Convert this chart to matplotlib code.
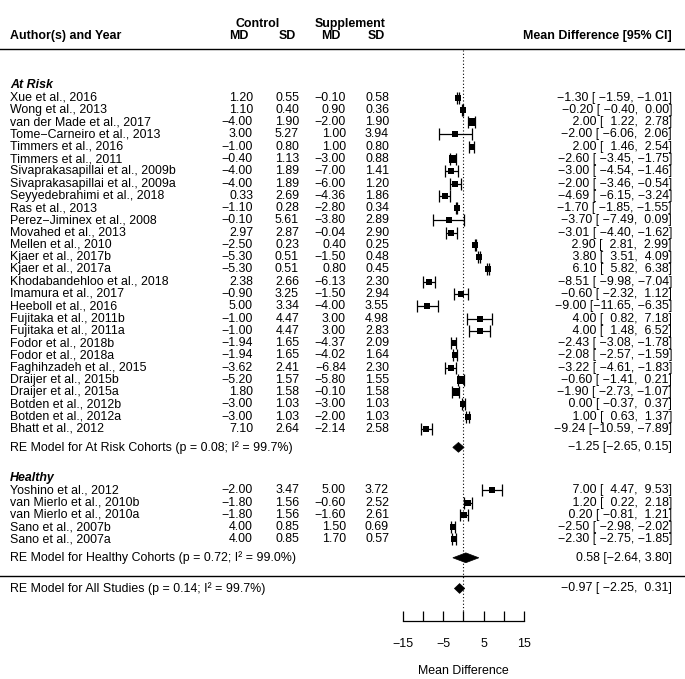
import matplotlib
matplotlib.use("Agg")
import matplotlib.pyplot as plt
import matplotlib.transforms as mtransforms
from matplotlib.patches import Polygon

plt.rcParams['font.family'] = ['Liberation Sans', 'DejaVu Sans']

# ---------------- data ----------------
risk_names = ["Xue et al., 2016", "Wong et al., 2013", "van der Made et al., 2017",
              "Tome\u2212Carneiro et al., 2013", "Timmers et al., 2016", "Timmers et al., 2011",
              "Sivaprakasapillai et al., 2009b", "Sivaprakasapillai et al., 2009a",
              "Seyyedebrahimi et al., 2018", "Ras et al., 2013", "Perez\u2212Jiminex et al., 2008",
              "Movahed et al., 2013", "Mellen et al., 2010", "Kjaer et al., 2017b",
              "Kjaer et al., 2017a", "Khodabandehloo et al., 2018", "Imamura et al., 2017",
              "Heeboll et al., 2016", "Fujitaka et al., 2011b", "Fujitaka et al., 2011a",
              "Fodor et al., 2018b", "Fodor et al., 2018a", "Faghihzadeh et al., 2015",
              "Draijer et al., 2015b", "Draijer et al., 2015a", "Botden et al., 2012b",
              "Botden et al., 2012a", "Bhatt et al., 2012"]
risk_ctrl_md = [1.20, 1.10, -4.00, 3.00, -1.00, -0.40, -4.00, -4.00, 0.33, -1.10, -0.10, 2.97,
                -2.50, -5.30, -5.30, 2.38, -0.90, 5.00, -1.00, -1.00, -1.94, -1.94, -3.62,
                -5.20, 1.80, -3.00, -3.00, 7.10]
risk_ctrl_sd = [0.55, 0.40, 1.90, 5.27, 0.80, 1.13, 1.89, 1.89, 2.69, 0.28, 5.61, 2.87,
                0.23, 0.51, 0.51, 2.66, 3.25, 3.34, 4.47, 4.47, 1.65, 1.65, 2.41,
                1.57, 1.58, 1.03, 1.03, 2.64]
risk_supp_md = [-0.10, 0.90, -2.00, 1.00, 1.00, -3.00, -7.00, -6.00, -4.36, -2.80, -3.80, -0.04,
                0.40, -1.50, 0.80, -6.13, -1.50, -4.00, 3.00, 3.00, -4.37, -4.02, -6.84,
                -5.80, -0.10, -3.00, -2.00, -2.14]
risk_supp_sd = [0.58, 0.36, 1.90, 3.94, 0.80, 0.88, 1.41, 1.20, 1.86, 0.34, 2.89, 2.90,
                0.25, 0.48, 0.45, 2.30, 2.94, 3.55, 4.98, 2.83, 2.09, 1.64, 2.30,
                1.55, 1.58, 1.03, 1.03, 2.58]
risk_est = [-1.30, -0.20, 2.00, -2.00, 2.00, -2.60, -3.00, -2.00, -4.69, -1.70, -3.70, -3.01,
            2.90, 3.80, 6.10, -8.51, -0.60, -9.00, 4.00, 4.00, -2.43, -2.08, -3.22,
            -0.60, -1.90, 0.00, 1.00, -9.24]
risk_lo = [-1.59, -0.40, 1.22, -6.06, 1.46, -3.45, -4.54, -3.46, -6.15, -1.85, -7.49, -4.40,
           2.81, 3.51, 5.82, -9.98, -2.32, -11.65, 0.82, 1.48, -3.08, -2.57, -4.61,
           -1.41, -2.73, -0.37, 0.63, -10.59]
risk_hi = [-1.01, 0.00, 2.78, 2.06, 2.54, -1.75, -1.46, -0.54, -3.24, -1.55, 0.09, -1.62,
           2.99, 4.09, 6.38, -7.04, 1.12, -6.35, 7.18, 6.52, -1.78, -1.59, -1.83,
           0.21, -1.07, 0.37, 1.37, -7.89]
risk_wt = [6.0, 6.0, 6.5, 5.5, 6.0, 6.5, 6.0, 6.0, 6.0, 6.0, 5.5, 6.0,
           6.0, 6.0, 6.0, 6.0, 6.0, 5.5, 5.5, 5.5, 6.0, 5.5, 6.0,
           6.5, 6.5, 5.5, 5.5, 6.0]

healthy_names = ["Yoshino et al., 2012", "van Mierlo et al., 2010b", "van Mierlo et al., 2010a",
                 "Sano et al., 2007b", "Sano et al., 2007a"]
healthy_ctrl_md = [-2.00, -1.80, -1.80, 4.00, 4.00]
healthy_ctrl_sd = [3.47, 1.56, 1.56, 0.85, 0.85]
healthy_supp_md = [5.00, -0.60, -1.60, 1.50, 1.70]
healthy_supp_sd = [3.72, 2.52, 2.61, 0.69, 0.57]
healthy_est = [7.00, 1.20, 0.20, -2.50, -2.30]
healthy_lo = [4.47, 0.22, -0.81, -2.98, -2.75]
healthy_hi = [9.53, 2.18, 1.21, -2.02, -1.85]
healthy_wt = [6.0, 6.0, 6.0, 5.5, 5.5]

summary_labels = ["RE Model for At Risk Cohorts (p = 0.08; I\u00b2 = 99.7%)",
                  "RE Model for Healthy Cohorts (p = 0.72; I\u00b2 = 99.0%)",
                  "RE Model for All Studies (p = 0.14; I\u00b2 = 99.7%)"]
summary_est = [-1.25, 0.58, -0.97]
summary_lo = [-2.65, -2.64, -2.25]
summary_hi = [0.15, 3.80, 0.31]

xticks = [-15, -10, -5, 0, 5, 10, 15]
xticklabels = ["\u221215", "", "\u22125", "", "5", "", "15"]

# ---------------- layout ----------------
W, H = 685, 679
FS = 8.9
ROW0_PX = 576.2      # pixel position of row 0 (separator line)
UNIT = 12.27         # pixels per row

fig = plt.figure(figsize=(W / 100, H / 100), dpi=100)
ax = fig.add_axes([403 / W, 0, 121 / W, 1])
ax.set_xlim(-15, 15)
# rows increase upward, as in a metafor forest plot
ax.set_ylim((ROW0_PX - H) / UNIT, ROW0_PX / UNIT)
for s in ['top', 'left', 'right']:
    ax.spines[s].set_visible(False)
ax.set_yticks([])
ax.patch.set_alpha(0)

tr = mtransforms.blended_transform_factory(fig.transFigure, ax.transData)


def put(px, y, s, **kw):
    kw.setdefault('fontsize', FS)
    kw.setdefault('va', 'center')
    ax.text(px / W, y, s, transform=tr, clip_on=False, **kw)


def m(v):
    return f"{v:.2f}".replace('-', '\u2212')


n_risk = len(risk_names)
n_h = len(healthy_names)
healthy_y = [7 - i for i in range(n_h)]                 # 7 .. 3
y_healthy_sum = 1.5
y_healthy_head = 8
risk_y = [12 + n_risk - 1 - i for i in range(n_risk)]   # 39 .. 12
y_risk_sum = 10.5
y_risk_head = 40
y_all = -1
y_sep = 0
y_hline = 43
y_head = 44
y_head2 = 45
summary_y = [y_risk_sum, y_healthy_sum, y_all]

# header
put(258, y_head2, "Control", ha='center', fontweight='bold')
put(350, y_head2, "Supplement", ha='center', fontweight='bold')
put(10, y_head, "Author(s) and Year", ha='left', fontweight='bold')
for cx, lab in zip([239, 287, 331, 376], ["MD", "SD", "MD", "SD"]):
    put(cx, y_head, lab, ha='center', fontweight='bold')
put(672, y_head, "Mean Difference [95% CI]", ha='right', fontweight='bold')

# horizontal rules
ax.plot([0, 1], [y_hline, y_hline], transform=tr, color='black', lw=1.0, clip_on=False)
ax.plot([0, 1], [y_sep, y_sep], transform=tr, color='black', lw=1.0, clip_on=False)

# group headers
put(10, y_risk_head, "At Risk", ha='left', fontweight='bold', fontstyle='italic')
put(10, y_healthy_head, "Healthy", ha='left', fontweight='bold', fontstyle='italic')

all_est = risk_est + healthy_est
all_lo = risk_lo + healthy_lo
all_hi = risk_hi + healthy_hi
we = max(len(m(v)) for v in all_est + [summary_est[2]])
wl = max(len(m(v)) for v in all_lo + [summary_lo[2]])
wh = max(len(m(v)) for v in all_hi + [summary_hi[2]])


def ci_text(e, lo, hi):
    return f"{m(e):>{we}} [{m(lo):>{wl}}, {m(hi):>{wh}}]"


def draw_rows(names, cmd, csd, smd, ssd, est, lo, hi, wt, ys):
    for i, y in enumerate(ys):
        put(10, y, names[i], ha='left')
        put(253, y, m(cmd[i]), ha='right')
        put(299, y, m(csd[i]), ha='right')
        put(346, y, m(smd[i]), ha='right')
        put(389, y, m(ssd[i]), ha='right')
        put(672, y, ci_text(est[i], lo[i], hi[i]), ha='right')
        ax.errorbar(est[i], y, xerr=[[est[i] - lo[i]], [hi[i] - est[i]]], fmt='none',
                    ecolor='black', elinewidth=0.9, capsize=4.2, capthick=0.9)
        ax.plot(est[i], y, marker='s', ms=wt[i] * 0.8, color='black', mec='black', mew=0)


draw_rows(risk_names, risk_ctrl_md, risk_ctrl_sd, risk_supp_md, risk_supp_sd,
          risk_est, risk_lo, risk_hi, risk_wt, risk_y)
draw_rows(healthy_names, healthy_ctrl_md, healthy_ctrl_sd, healthy_supp_md, healthy_supp_sd,
          healthy_est, healthy_lo, healthy_hi, healthy_wt, healthy_y)

# summary diamonds
DH = 0.4
for k in range(3):
    y = summary_y[k]
    e, lo, hi = summary_est[k], summary_lo[k], summary_hi[k]
    ax.add_patch(Polygon([(lo, y), (e, y - DH), (hi, y), (e, y + DH)], closed=True,
                         facecolor='black', edgecolor='black', lw=0.5))
    put(10, y, summary_labels[k], ha='left')
    if k < 2:
        txt = f"{m(e)} [{m(lo)}, {m(hi)}]"
    else:
        txt = ci_text(e, lo, hi)
    put(672, y, txt, ha='right')

# reference line
ax.vlines(0, -2.85, y_hline - 0.1, colors='black', linestyles=(0, (1, 2)), lw=0.8)

# x axis
ax.spines['bottom'].set_position(('data', (ROW0_PX - 621) / UNIT))
ax.spines['bottom'].set_linewidth(0.9)
ax.set_xticks(xticks)
ax.set_xticklabels(xticklabels, fontsize=FS)
ax.tick_params(axis='x', direction='in', length=7.2, width=0.9, pad=12)
ax.text(0, (ROW0_PX - 671) / UNIT, "Mean Difference", ha='center', va='center', fontsize=FS)

fig.savefig("out.png", dpi=100)
